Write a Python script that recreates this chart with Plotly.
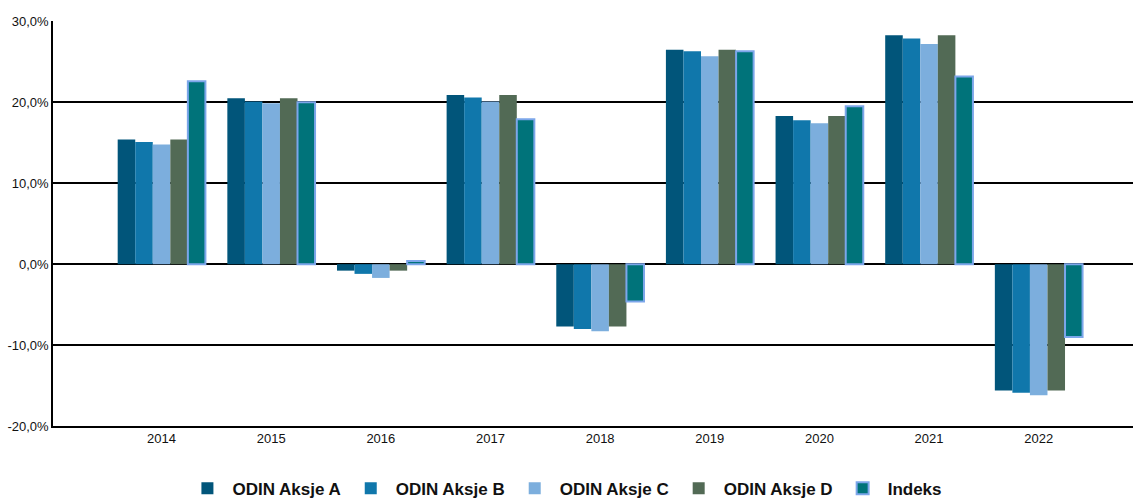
"""Annual returns ODIN Aksje share classes vs index"""

import plotly.graph_objects as go

years = ["2014", "2015", "2016", "2017", "2018", "2019", "2020", "2021", "2022"]

aksje_a = [15.4, 20.5, -0.8, 20.9, -7.7, 26.5, 18.3, 28.3, -15.6]
aksje_b = [15.1, 20.1, -1.2, 20.6, -8.0, 26.3, 17.8, 27.9, -15.9]
aksje_c = [14.8, 19.9, -1.7, 20.1, -8.3, 25.7, 17.4, 27.2, -16.2]
aksje_d = [15.4, 20.5, -0.8, 20.9, -7.7, 26.5, 18.3, 28.3, -15.6]
indeks = [22.6, 20.0, 0.4, 17.9, -4.6, 26.3, 19.5, 23.2, -9.0]

y_ticks = [-20, -10, 0, 10, 20, 30]

series = [
    ("ODIN Aksje A", aksje_a, "#01557a"),
    ("ODIN Aksje B", aksje_b, "#1077ab"),
    ("ODIN Aksje C", aksje_c, "#7caedd"),
    ("ODIN Aksje D", aksje_d, "#526a55"),
]

fig = go.Figure()
for name, vals, col in series:
    fig.add_bar(x=years, y=vals, name=name, marker=dict(color=col, line=dict(width=0)))

# index bars get a light blue outline
fig.add_bar(x=years, y=indeks, name="Indeks",
            marker=dict(color="#00737a", line=dict(color="#7ca6ea", width=2)))

fig.update_layout(
    width=1133,
    height=498,
    barmode="group",
    bargap=0.2,
    bargroupgap=0,
    font=dict(family="Liberation Sans, Arial, sans-serif", size=13, color="#111"),
    plot_bgcolor="white",
    paper_bgcolor="white",
    margin=dict(l=53, r=0, t=21, b=72, autoexpand=False),
    showlegend=True,
    legend=dict(
        orientation="h",
        x=0.474, xanchor="center",
        y=-0.155, yanchor="middle",
        font=dict(family="Liberation Sans, Arial, sans-serif",
                  size=17, color="#111", weight="bold"),
        itemwidth=40,
        traceorder="normal",
    ),
)

fig.update_yaxes(
    range=[-20, 30.05],
    tickmode="array",
    tickvals=y_ticks,
    ticktext=[f"{v:.1f}%".replace(".", ",") for v in y_ticks],
    automargin=False,
    showgrid=True, gridcolor="black", gridwidth=1.5,
    zeroline=True, zerolinecolor="black", zerolinewidth=2,
    showline=True, linecolor="black", linewidth=1.5,
    ticks="", ticklen=0,
)
fig.update_xaxes(
    range=[-0.99, 8.86],
    automargin=False,
    showgrid=False,
    showline=True, linecolor="black", linewidth=1.5,
    ticks="",
)

# drop the default page margin so the figure sits at the window's corner
fig.write_html("out.html", config={"displayModeBar": False},
               post_script="document.body.style.margin='0';")
